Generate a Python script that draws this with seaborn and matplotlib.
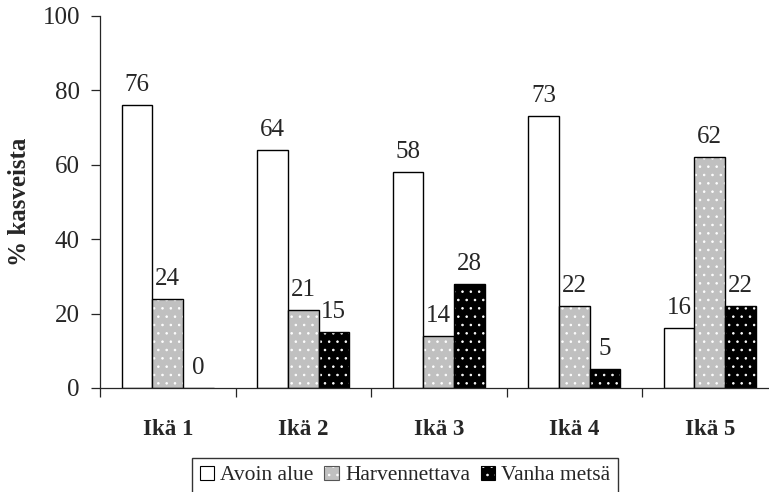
import matplotlib
matplotlib.use("Agg")
import matplotlib.pyplot as plt
from matplotlib.patches import Patch, Rectangle
from matplotlib.legend_handler import HandlerTuple
from matplotlib.ticker import FixedLocator
import seaborn as sns
import pandas as pd

# Age classes and the share (%) of stands in each development class
ika = ["Ikä 1", "Ikä 2", "Ikä 3", "Ikä 4", "Ikä 5"]
avoin_alue = [76, 64, 58, 73, 16]
harvennettava = [24, 21, 14, 22, 62]
vanha_metsa = [0, 15, 28, 5, 22]
luokat = ["Avoin alue", "Harvennettava", "Vanha metsä"]
y_ticks = [0, 20, 40, 60, 80, 100]

sns.set_style("ticks")
plt.rcParams["font.family"] = ["Liberation Serif", "DejaVu Serif"]
plt.rcParams["hatch.linewidth"] = 0.6

df = pd.DataFrame({
    "ikä": ika * 3,
    "osuus": avoin_alue + harvennettava + vanha_metsa,
    "luokka": [luokat[0]] * 5 + [luokat[1]] * 5 + [luokat[2]] * 5,
})

fill_colors = ["#ffffff", "#c0c0c0", "#000000"]

fig = plt.figure(figsize=(7.69, 4.92), dpi=100)
ax = fig.add_axes([100 / 769, 1 - 388 / 492, 669 / 769, (388 - 15.7) / 492])

sns.barplot(data=df, x="ikä", y="osuus", hue="luokka", hue_order=luokat,
            palette=fill_colors, saturation=1, width=0.677, dodge=True,
            edgecolor="black", linewidth=1, legend=False, ax=ax)

# Dotted fills: white dots on grey and black bars, with a black outline on top
for i, cont in enumerate(ax.containers):
    for p in cont.patches:
        if i > 0:
            p.set_hatch("..")
            p.set_edgecolor("white")
            p.set_linewidth(0)
            ax.add_patch(Rectangle(p.get_xy(), p.get_width(), p.get_height(),
                                   fill=False, edgecolor="black", linewidth=1,
                                   zorder=p.get_zorder() + 0.1))

values = [avoin_alue, harvennettava, vanha_metsa]
for cont, vals in zip(ax.containers, values):
    ax.bar_label(cont, labels=[f"{v:g}" for v in vals], padding=6.5, fontsize=18)

ax.set_ylim(0, 100)
ax.set_xlim(-0.5, -0.5 + 669 / 135.5)
ax.set_yticks(y_ticks)
ax.tick_params(axis="y", length=6.5, width=0.9, pad=8, labelsize=18, direction="out")
ax.tick_params(axis="x", which="major", length=0, pad=22, labelsize=16.5)
ax.xaxis.set_minor_locator(FixedLocator([k - 0.5 for k in range(len(ika) + 1)]))
ax.tick_params(axis="x", which="minor", length=6.5, width=0.9, direction="out")
for lab in ax.get_xticklabels():
    lab.set_fontweight("bold")

sns.despine(ax=ax)
for s in ("left", "bottom"):
    ax.spines[s].set_linewidth(0.9)

ax.set_xlabel("")
ax.set_ylabel("% kasveista", fontsize=18, fontweight="bold", va="center")
ax.yaxis.set_label_coords(-81 / 669, 0.5)

# Legend with dotted swatches
handles = [
    Patch(facecolor="white", edgecolor="black", linewidth=0.8),
    (Patch(facecolor=fill_colors[1], edgecolor="white", hatch="..", linewidth=0),
     Patch(fill=False, edgecolor="#555555", linewidth=0.8)),
    (Patch(facecolor=fill_colors[2], edgecolor="white", hatch="..", linewidth=0),
     Patch(fill=False, edgecolor="black", linewidth=0.8)),
]
leg = fig.legend(handles, luokat, loc="upper left", bbox_to_anchor=(192 / 769, 1 - 458 / 492),
                 ncol=3, fontsize=15.5, frameon=True, fancybox=False, shadow=False,
                 handlelength=0.66, handleheight=0.66, handletextpad=0.3,
                 columnspacing=0.5, borderpad=0.35, borderaxespad=0,
                 handler_map={tuple: HandlerTuple(ndivide=1, pad=0)})
leg.get_frame().set_edgecolor("black")
leg.get_frame().set_linewidth(1)

fig.savefig("out.png", dpi=100)
